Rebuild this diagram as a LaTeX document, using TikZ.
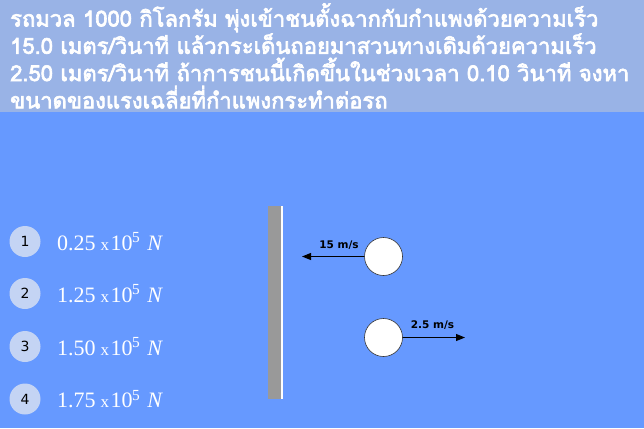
\documentclass[tikz,border=0pt]{standalone}
\usepackage{fontspec}
\setmainfont{Liberation Serif}
\newfontfamily\thaifont[Script=Thai,FakeBold=3]{Loma}
\newfontfamily\vfont{DejaVu Sans}
\usetikzlibrary{arrows.meta}
\definecolor{bg}{HTML}{6699FF}
\definecolor{hdr}{HTML}{99B3E6}
\definecolor{opt}{HTML}{C4D4F4}
\definecolor{wall}{HTML}{999999}
\newcommand{\optval}[1]{#1\hspace{5pt}{\fontsize{17}{17}\selectfont x}\hspace{1.5pt}10\textsuperscript{\kern-0.5pt 5}\hspace{7pt}\textit{N}}
\begin{document}
\begin{tikzpicture}[x=1pt,y=-1pt,
  optcirc/.style={circle,fill=opt,minimum size=31pt,inner sep=0pt,font=\vfont\fontsize{14}{14}\selectfont},
  opttext/.style={anchor=west,text=white,inner sep=0pt,font=\fontsize{22}{22}\selectfont},
  ball/.style={circle,draw=black!80,fill=white,minimum size=38pt,inner sep=0pt,line width=0.6pt},
  vel/.style={-{Triangle[length=9pt,width=7pt]},line width=0.9pt},
  vlabel/.style={font=\vfont\bfseries\fontsize{10.5}{10.5}\selectfont,inner sep=0pt}]
\fill[bg] (0,0) rectangle (644,428);
\fill[hdr] (0,0) rectangle (644,112);
\node[anchor=north west,text=white,inner sep=0pt,align=left,
  font=\thaifont\fontsize{22}{27.3}\selectfont] (q) at (10,3)
  {รถมวล 1000 กิโลกรัม พุ่งเข้าชนตั้งฉากกับกำแพงด้วยความเร็ว\\
   15.0 เมตร/วินาที แล้วกระเด็นถอยมาสวนทางเดิมด้วยความเร็ว\\
   2.50 เมตร/วินาที ถ้าการชนนี้เกิดขึ้นในช่วงเวลา 0.10 วินาที จงหา\\
   ขนาดของแรงเฉลี่ยที่กำแพงกระทำต่อรถ};
% options
\node[optcirc] (c1) at (25,241.5) {1};
\node[optcirc] (c2) at (25,293.5) {2};
\node[optcirc] (c3) at (25,346.5) {3};
\node[optcirc] (c4) at (25,399) {4};
\node[opttext] (t1) at (57,241.5) {\optval{0.25}};
\node[opttext] (t2) at (57,293.5) {\optval{1.25}};
\node[opttext] (t3) at (57,346.5) {\optval{1.50}};
\node[opttext] (t4) at (57,399) {\optval{1.75}};
% wall
\fill[wall] (268,206) rectangle (281.5,399);
\draw[white,line width=1.2pt] (282,206) -- (282,399);
% balls
\node[ball] (b1) at (383.5,256.5) {};
\node[ball] (b2) at (383.5,337.5) {};
\coordinate (e1) at (302,256.5);
\coordinate (e2) at (465,337.5);
\draw[vel] (b1.west) -- (e1);
\draw[vel] (b2.east) -- (e2);
\node[vlabel] (l1) at (339,245.5) {15 m/s};
\node[vlabel] (l2) at (432.5,325.5) {2.5 m/s};
\end{tikzpicture}
\end{document}
